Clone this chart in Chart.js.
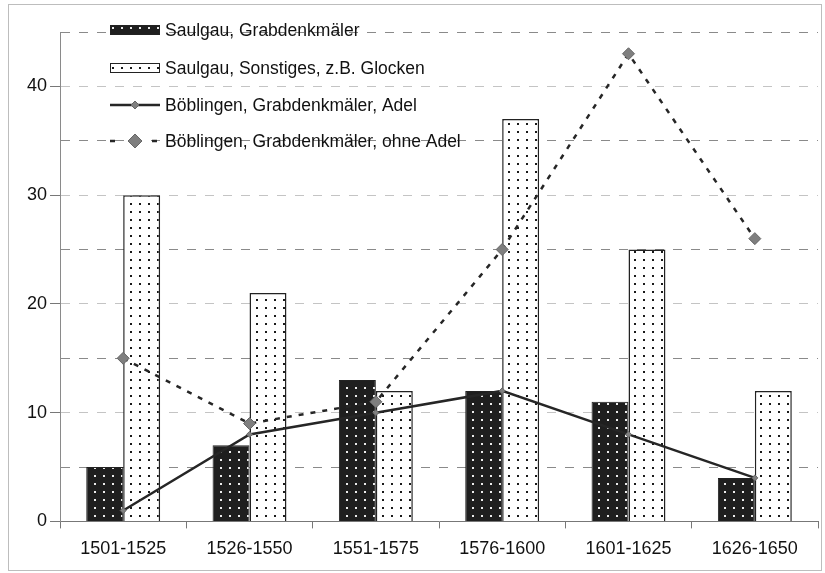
<!DOCTYPE html>
<html>
<head>
<meta charset="utf-8">
<script src="https://cdn.jsdelivr.net/npm/chart.js@4.4.1/dist/chart.umd.min.js"></script>
<style>
html, body { margin: 0; padding: 0; background: #fff; }
#wrap { width: 825px; height: 573px; }
</style>
</head>
<body>
<div id="wrap"><canvas id="graph" width="825" height="573"></canvas></div>
<script>
// periods on the x axis
const periods = ['1501-1525', '1526-1550', '1551-1575', '1576-1600', '1601-1625', '1626-1650'];

// series values
const saulgauGrab = [5, 7, 13, 12, 11, 4];
const saulgauSonst = [30, 21, 12, 37, 25, 12];
const boeAdel = [1, 8, 10, 12, 8, 4];
const boeOhneAdel = [15, 9, 11, 25, 43, 26];

const seriesNames = [
    'Saulgau, Grabdenkmäler',
    'Saulgau, Sonstiges, z.B. Glocken',
    'Böblingen, Grabdenkmäler, Adel',
    'Böblingen, Grabdenkmäler, ohne Adel'
];

const yTicks = [0, 10, 20, 30, 40];
const FONT = '"Liberation Sans", Arial, sans-serif';

let canvas = document.getElementById('graph');
let ctx = canvas.getContext('2d');

// dotted fill like the printed hatching
function dotPattern(bg, dot) {
    let c = document.createElement('canvas');
    c.width = 9;
    c.height = 8;
    let g = c.getContext('2d');
    g.fillStyle = bg;
    g.fillRect(0, 0, 9, 8);
    g.fillStyle = dot;
    g.fillRect(4, 3, 2, 2);
    return ctx.createPattern(c, 'repeat');
}
const darkFill = dotPattern('#1f1f1f', '#ececec');
const lightFill = dotPattern('#ffffff', '#1a1a1a');

// frame round the whole picture
const framePlugin = {
    id: 'frame',
    beforeDraw(chart) {
        const c = chart.ctx;
        c.save();
        c.fillStyle = '#fff';
        c.fillRect(0, 0, chart.width, chart.height);
        c.strokeStyle = '#bdbdbd';
        c.lineWidth = 1;
        c.strokeRect(8.5, 4.5, 813, 566);
        c.restore();
    }
};

// legend drawn inside the plot, top left
const legendPlugin = {
    id: 'insideLegend',
    afterDraw(chart) {
        const c = chart.ctx;
        const rows = [30, 68, 105, 141];
        const x0 = 110, w = 50, tx = 165;
        chart.data.datasets.forEach((ds, i) => {
            const y = rows[i];
            c.save();
            if (ds.type === 'line') {
                c.strokeStyle = ds.borderColor;
                c.lineWidth = 2.5;
                c.beginPath();
                if (ds.borderDash && ds.borderDash.length) {
                    c.moveTo(x0, y); c.lineTo(x0 + 5, y);
                    c.moveTo(x0 + 42, y); c.lineTo(x0 + 47, y);
                } else {
                    c.moveTo(x0, y); c.lineTo(x0 + w, y);
                }
                c.stroke();
                const r = ds.pointRadius + 1;
                c.fillStyle = ds.pointBackgroundColor;
                c.strokeStyle = ds.pointBorderColor;
                c.lineWidth = 1;
                c.beginPath();
                c.moveTo(x0 + 25, y - r);
                c.lineTo(x0 + 25 + r, y);
                c.lineTo(x0 + 25, y + r);
                c.lineTo(x0 + 25 - r, y);
                c.closePath();
                c.fill();
                c.stroke();
            } else {
                c.fillStyle = ds.backgroundColor;
                c.fillRect(x0, y - 5, w, 10);
                c.strokeStyle = ds.borderColor;
                c.lineWidth = 1;
                c.strokeRect(x0 + 0.5, y - 4.5, w - 1, 9);
            }
            c.fillStyle = '#111';
            c.font = '17.5px ' + FONT;
            c.textBaseline = 'middle';
            c.fillText(ds.label, tx, y + 1);
            c.restore();
        });
    }
};

let chart = new Chart(ctx, {
    type: 'bar',
    data: {
        labels: periods,
        datasets: [
            {
                label: seriesNames[0],
                data: saulgauGrab,
                backgroundColor: darkFill,
                borderColor: '#222',
                borderWidth: 1,
                order: 2
            },
            {
                label: seriesNames[1],
                data: saulgauSonst,
                backgroundColor: lightFill,
                borderColor: '#222',
                borderWidth: 1.5,
                order: 2
            },
            {
                type: 'line',
                label: seriesNames[2],
                data: boeAdel,
                borderColor: '#262626',
                borderWidth: 2.5,
                pointStyle: 'rectRot',
                pointRadius: 3,
                pointBackgroundColor: '#808080',
                pointBorderColor: '#666',
                pointBorderWidth: 1,
                tension: 0,
                order: 0
            },
            {
                type: 'line',
                label: seriesNames[3],
                data: boeOhneAdel,
                borderColor: '#262626',
                borderWidth: 2.5,
                borderDash: [5, 7],
                pointStyle: 'rectRot',
                pointRadius: 6,
                pointBackgroundColor: '#7f7f7f',
                pointBorderColor: '#666',
                pointBorderWidth: 1,
                tension: 0,
                order: 1
            }
        ]
    },
    options: {
        responsive: false,
        animation: false,
        categoryPercentage: 0.585,
        barPercentage: 1,
        layout: { padding: { left: 24, right: 7, top: 32, bottom: 3 } },
        plugins: {
            legend: { display: false },
            tooltip: { enabled: false }
        },
        scales: {
            x: {
                grid: {
                    offset: true,
                    drawOnChartArea: false,
                    tickLength: 7,
                    tickColor: '#777'
                },
                border: { display: true, color: '#777', width: 1 },
                ticks: {
                    color: '#111',
                    padding: 10,
                    font: { family: FONT, size: 18 }
                }
            },
            y: {
                min: 0,
                max: 45,
                grid: {
                    color: (c) => {
                        const v = c.tick ? c.tick.value : 0;
                        if (v === 0) return 'rgba(0,0,0,0)';
                        return v % 10 === 0 ? '#c4c4c4' : '#8a8a8a';
                    },
                    tickColor: (c) => {
                        const v = c.tick ? c.tick.value : 0;
                        return yTicks.includes(v) ? '#777' : 'rgba(0,0,0,0)';
                    },
                    tickLength: 10,
                    lineWidth: 1
                },
                border: { display: true, color: '#8a8a8a', width: 1, dash: [9, 9] },
                ticks: {
                    stepSize: 5,
                    padding: 3,
                    color: '#111',
                    font: { family: FONT, size: 18 },
                    callback: (v) => yTicks.includes(v) ? v : ''
                }
            }
        }
    },
    plugins: [framePlugin, legendPlugin]
});
</script>
</body>
</html>
